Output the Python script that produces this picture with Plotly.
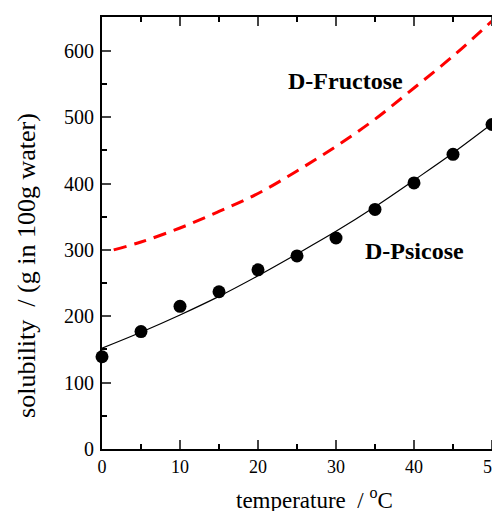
import plotly.graph_objects as go

# D-Psicose measured solubility
psi_t = [0, 5, 10, 15, 20, 25, 30, 35, 40, 45, 50]
psi_s = [139, 177, 215, 237, 270, 291, 318, 361, 401, 444, 489]

# D-Psicose fitted curve
fit_t = [0, 5, 10, 15, 20, 25, 30, 35, 40, 45, 50]
fit_s = [152, 176, 202, 230, 261, 294, 328, 365, 405, 446, 490]

# D-Fructose curve
fru_t = [1.5, 5, 10, 15, 20, 25, 30, 35, 40, 45, 50]
fru_s = [300, 312, 333, 358, 385, 419, 456, 497, 544, 592, 645]

x_ticks = [0, 10, 20, 30, 40, 50]
y_ticks = [0, 100, 200, 300, 400, 500, 600]

FONT = "Liberation Serif, Times New Roman, serif"

fig = go.Figure()
fig.add_trace(go.Scatter(x=fru_t, y=fru_s, mode="lines",
                         line=dict(color="#ff0000", width=3, dash="13px,8px", shape="spline"),
                         showlegend=False))
fig.add_trace(go.Scatter(x=fit_t, y=fit_s, mode="lines",
                         line=dict(color="black", width=1.2, shape="spline"),
                         showlegend=False))
fig.add_trace(go.Scatter(x=psi_t, y=psi_s, mode="markers",
                         marker=dict(color="black", size=13),
                         showlegend=False, cliponaxis=False))

fig.update_layout(
    width=500, height=511,
    margin=dict(l=94, r=8, t=7, b=70),
    paper_bgcolor="white", plot_bgcolor="white",
    font=dict(family=FONT, color="black"),
    xaxis=dict(range=[0, 50.64], tickvals=x_ticks, ticks="inside", ticklen=9, tickwidth=2,
               showline=True, linewidth=2, linecolor="black", mirror="ticks",
               showgrid=False, zeroline=False, tickfont=dict(size=18, family=FONT),
               minor=dict(dtick=5, ticks="inside", ticklen=5, tickwidth=2, tickcolor="black", showgrid=False)),
    yaxis=dict(range=[0, 651], tickvals=y_ticks, ticks="inside", ticklen=9, tickwidth=2,
               showline=True, linewidth=2, linecolor="black", mirror=False,
               showgrid=False, zeroline=False, tickfont=dict(size=20, family=FONT),
               ticklabelstandoff=2,
               minor=dict(dtick=50, ticks="inside", ticklen=5, tickwidth=2, tickcolor="black", showgrid=False)),
    annotations=[
        dict(x=31.2, y=555, xref="x", yref="y", text="<b>D-Fructose</b>", showarrow=False,
             font=dict(size=24, family=FONT), xanchor="center", yanchor="middle"),
        dict(x=40.0, y=299, xref="x", yref="y", text="<b>D-Psicose</b>", showarrow=False,
             font=dict(size=24, family=FONT), xanchor="center", yanchor="middle"),
        dict(x=27.2, y=-0.115, xref="x", yref="paper", text="temperature  / <sup>o</sup>C",
             showarrow=False, font=dict(size=23, family=FONT), xanchor="center", yanchor="middle"),
        dict(x=-0.19, y=0.426, xref="paper", yref="paper", text="solubility  / (g in 100g water)",
             showarrow=False, textangle=-90, font=dict(size=26, family=FONT),
             xanchor="center", yanchor="middle"),
    ],
)

fig.write_html("out.html")
